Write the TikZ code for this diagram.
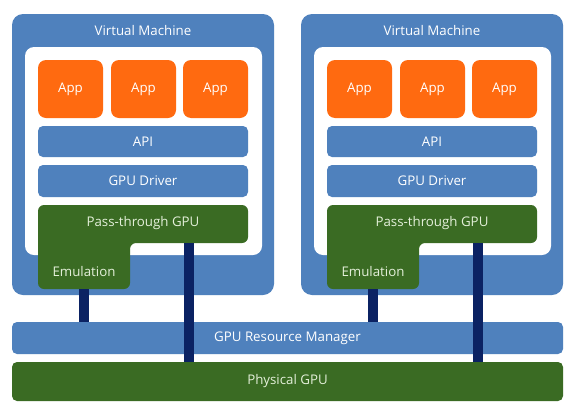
\documentclass[tikz,border=0pt]{standalone}
\usepackage{fontspec}
\setmainfont{Open Sans}
\definecolor{vmblue}{HTML}{4F81BD}
\definecolor{apporange}{HTML}{FF6A10}
\definecolor{gpugreen}{HTML}{3A6B23}
\definecolor{linknavy}{HTML}{0B2263}
\definecolor{greentext}{HTML}{E4F0DA}
\tikzset{
  vmbox/.style={fill=vmblue, draw=none, rounded corners=11pt},
  innerbox/.style={fill=white, draw=none, rounded corners=9pt},
  appbox/.style={fill=apporange, draw=none, rounded corners=8pt},
  bar/.style={fill=vmblue, draw=none, rounded corners=5pt},
  greenbox/.style={fill=gpugreen, draw=none, rounded corners=6pt},
  lbl/.style={text=white, font=\fontsize{13.3}{15}\selectfont},
  glbl/.style={text=greentext, font=\fontsize{13.3}{15}\selectfont},
  link/.style={draw=linknavy, line width=10pt},
}
\begin{document}
\begin{tikzpicture}[x=1pt,y=-1pt]
\useasboundingbox (0,0) rectangle (567,407);
\fill[white] (0,0) rectangle (567,407);
% bottom bars
\fill[bar] (12,322) rectangle (563,354);
\node[lbl] (grm) at (287.5,338) {GPU Resource Manager};
\fill[greenbox, rounded corners=5pt] (12,362) rectangle (563,401);
\node[glbl] (pgpu) at (287.5,381.5) {Physical GPU};
\foreach \dx/\n in {0/L,289/R}{
  \begin{scope}[xshift=\dx]
    \fill[vmbox] (12,14) rectangle (274,295);
    \node[lbl] (vm\n) at (143,31) {Virtual Machine};
    \fill[innerbox] (25,47) rectangle (262,255);
    \fill[appbox] (38,60) rectangle (103,118);
    \node[lbl] (appa\n) at (70.5,89) {App};
    \fill[appbox] (111,60) rectangle (176,118);
    \node[lbl] (appb\n) at (143.5,89) {App};
    \fill[appbox] (183,60) rectangle (248,118);
    \node[lbl] (appc\n) at (215.5,89) {App};
    \fill[bar] (38,126) rectangle (248,157);
    \node[lbl] (api\n) at (143,141.5) {API};
    \fill[bar] (38,165) rectangle (248,197);
    \node[lbl] (drv\n) at (143,181) {GPU Driver};
    \fill[greenbox] (38,205) -- (248,205) -- (248,243) -- (130,243) -- (130,289) -- (38,289) -- cycle;
    \node[glbl] (pt\n) at (143,223.5) {Pass-through GPU};
    \node[glbl] (emu\n) at (84,272) {Emulation};
    \coordinate (emuB\n) at (84,289);
    \coordinate (grmT\n) at (84,322);
    \coordinate (ptB\n) at (189,243);
    \coordinate (pgT\n) at (189,362);
  \end{scope}
}
\foreach \n in {L,R}{
  \draw[link] (emuB\n) -- (grmT\n);
  \draw[link] (ptB\n) -- (pgT\n);
}
\end{tikzpicture}
\end{document}
